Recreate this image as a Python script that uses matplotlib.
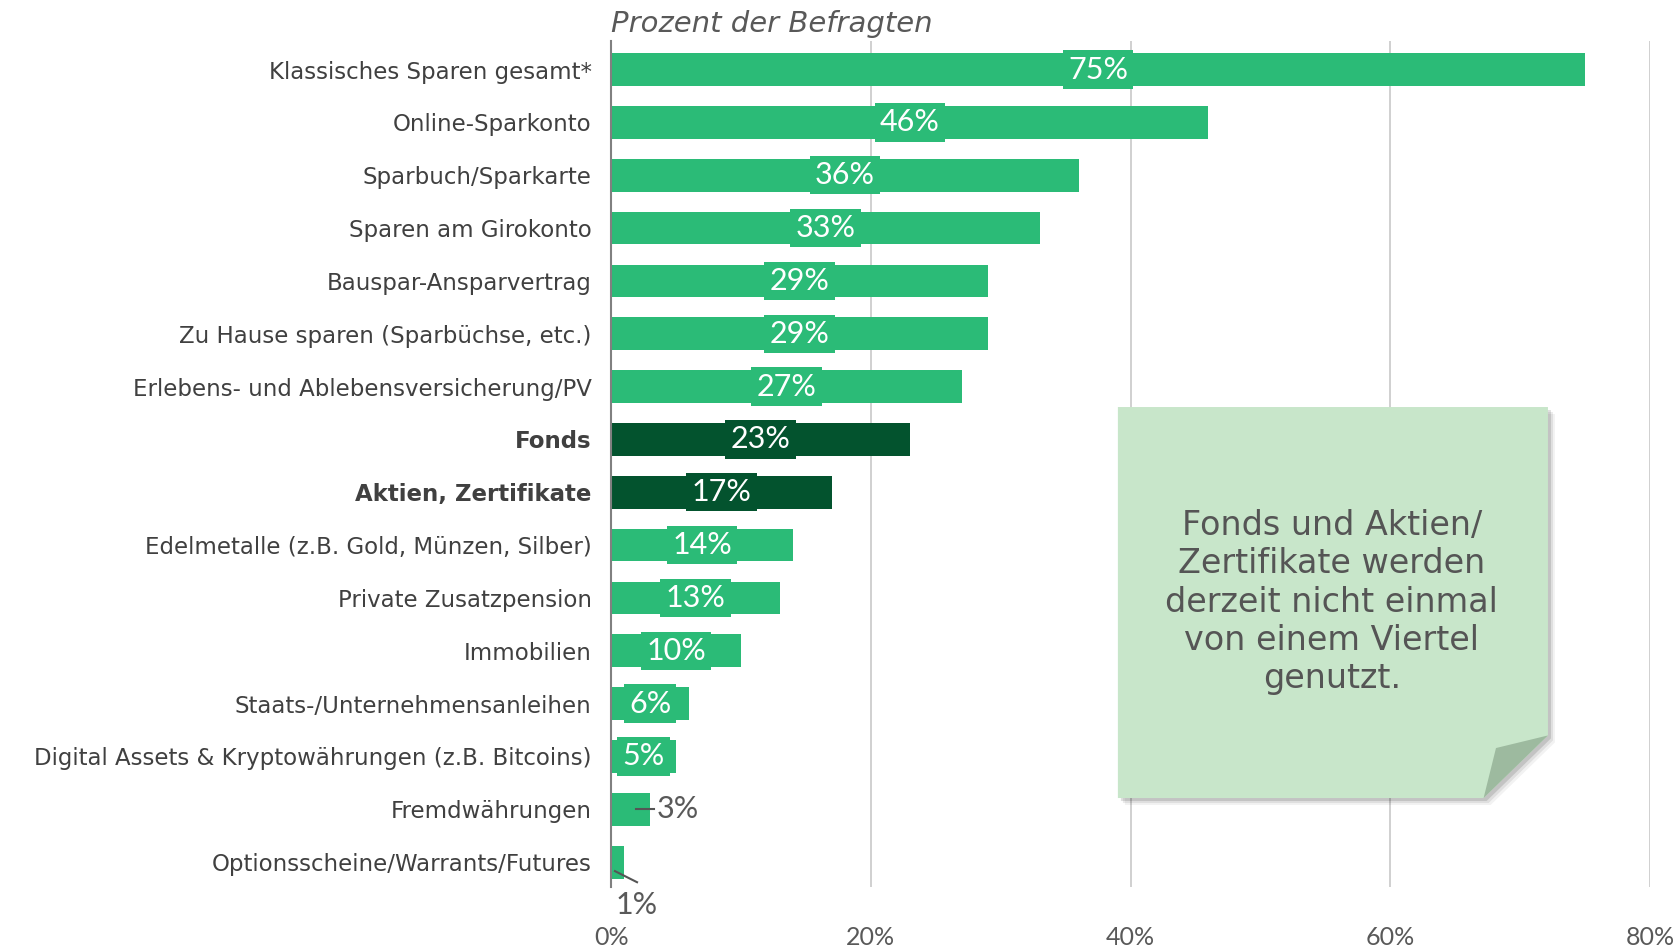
#!/usr/bin/env python3
"""Horizontal bar chart: Sparformen in Prozent der Befragten."""

import matplotlib
matplotlib.use('Agg')
import matplotlib.pyplot as plt
from matplotlib.patches import Polygon

categories = [
    'Klassisches Sparen gesamt*',
    'Online-Sparkonto',
    'Sparbuch/Sparkarte',
    'Sparen am Girokonto',
    'Bauspar-Ansparvertrag',
    'Zu Hause sparen (Sparbüchse, etc.)',
    'Erlebens- und Ablebensversicherung/PV',
    'Fonds',
    'Aktien, Zertifikate',
    'Edelmetalle (z.B. Gold, Münzen, Silber)',
    'Private Zusatzpension',
    'Immobilien',
    'Staats-/Unternehmensanleihen',
    'Digital Assets & Kryptowährungen (z.B. Bitcoins)',
    'Fremdwährungen',
    'Optionsscheine/Warrants/Futures',
]
values = [75, 46, 36, 33, 29, 29, 27, 23, 17, 14, 13, 10, 6, 5, 3, 1]
highlight = ['Fonds', 'Aktien, Zertifikate']
x_ticks = [0, 20, 40, 60, 80]

GREEN = '#2bbb77'
DARK = '#03532e'
TEXT = '#404040'
GREY = '#595959'

note_text = ('Fonds und Aktien/\nZertifikate werden\nderzeit nicht einmal\n'
             'von einem Viertel\ngenutzt.')


def main():
    fig = plt.figure(figsize=(16.76, 9.47), dpi=100)
    ax = fig.add_axes([0.3646, 0.0634, 0.6199, 0.8933])

    colors = [DARK if c in highlight else GREEN for c in categories]
    y_pos = list(range(len(categories)))
    ax.barh(y_pos, values, height=0.62, color=colors, zorder=2)

    ax.set_xlim(0, 80)
    ax.set_ylim(15.47, -0.54)
    ax.set_xticks(x_ticks)
    ax.set_xticklabels([f'{t}%' for t in x_ticks], fontsize=18,
                       color=GREY, family='Lato')
    ax.set_yticks(y_pos)
    ax.set_yticklabels(categories, fontsize=16.5, color=TEXT)
    for lbl in ax.get_yticklabels():
        if lbl.get_text() in highlight:
            lbl.set_fontweight('bold')
    ax.tick_params(axis='x', length=0, pad=28)
    ax.tick_params(axis='y', length=0, pad=14)

    ax.grid(axis='x', color='#c8c8c8', linewidth=1.2, zorder=0)
    for side in ['top', 'right', 'bottom']:
        ax.spines[side].set_visible(False)
    ax.spines['left'].set_color('#808080')
    ax.spines['left'].set_linewidth(1.5)
    ax.spines['left'].set_zorder(3)

    # value labels
    for y, v, c in zip(y_pos, values, colors):
        if v >= 5:
            ax.text(v / 2, y, f'{v}%', ha='center', va='center',
                    fontsize=22, color='white', family='Lato', zorder=4,
                    bbox=dict(boxstyle='square,pad=0.17', fc=c, ec='none'))
        elif v >= 3:
            ax.plot([1.9, 3.3], [y, y], color='#555555', lw=1.5, zorder=4)
            ax.text(3.5, y, f'{v}%', ha='left', va='center', fontsize=22,
                    color=GREY, family='Lato', zorder=4)
        else:
            ax.plot([0.3, 2.0], [y + 0.17, y + 0.38], color='#555555',
                    lw=1.5, zorder=4, clip_on=False)
            ax.text(2.0, y + 0.82, f'{v}%', ha='center', va='center',
                    fontsize=22, color=GREY, family='Lato', clip_on=False)

    fig.text(0.3646, 1 - 23.5 / 947, 'Prozent der Befragten', fontsize=21,
             style='italic', color=GREY, ha='left', va='center')

    # sticky note with folded corner
    x0, x1 = 0.667, 0.9236
    y0, y1 = 0.1573, 0.5702
    cx, cy = 0.8852, 0.2234
    fx, fy = 0.8926, 0.2101
    note = [(x0, y1), (x1, y1), (x1, cy), (cx, y0), (x0, y0)]
    for k, a in [(7, 0.05), (5, 0.08), (3, 0.12)]:
        dx, dy = k / 1676, -k / 947
        shadow = Polygon([(px + dx, py + dy) for px, py in note],
                         closed=True, transform=fig.transFigure,
                         fc='#000000', ec='none', alpha=a, zorder=5)
        fig.patches.append(shadow)
    fig.patches.append(Polygon(note, closed=True, transform=fig.transFigure,
                               fc='#c8e6ca', ec='none', zorder=6))
    fig.patches.append(Polygon([(x1, cy), (fx, fy), (cx, y0)], closed=True,
                               transform=fig.transFigure, fc='#9dba9f',
                               ec='none', zorder=7))
    fig.text(0.7947, 1 - 602 / 947, note_text, fontsize=24, color='#555555',
             ha='center', va='center', linespacing=1.2, zorder=8)

    fig.savefig('out.png', dpi=100, facecolor='white')


if __name__ == '__main__':
    main()
